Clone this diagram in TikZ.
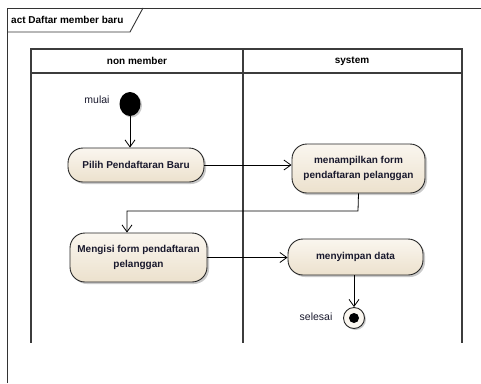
\documentclass[tikz,border=0pt]{standalone}
\usepackage{fontspec}
\setmainfont{Liberation Sans}
\usetikzlibrary{arrows.meta,shadows,shapes.geometric}
\definecolor{nodeLight}{RGB}{250,246,239}
\definecolor{nodeDark}{RGB}{236,225,205}
\definecolor{txt}{RGB}{25,25,45}
\definecolor{lanecol}{RGB}{60,60,60}
\tikzset{
  act/.style={draw=black!85, line width=0.9pt, rounded corners=15pt, top color=nodeLight, bottom color=nodeDark,
    drop shadow={shadow xshift=2pt, shadow yshift=-2pt, fill=black!35, opacity=0.6},
    align=center, inner sep=2pt, text=txt, font=\bfseries\fontsize{10}{14.5}\selectfont},
  flow/.style={draw=black, line width=0.8pt, -{Straight Barb[length=7pt,width=10pt,line width=0.8pt]}},
  lbl/.style={text=txt, font=\fontsize{10.5}{12}\selectfont, inner sep=0pt},
  lane/.style={draw=lanecol, line width=1.2pt},
}
\begin{document}
\begin{tikzpicture}[x=1pt,y=-1pt]
\useasboundingbox (0,0) rectangle (481,383);
% frame
\draw[line width=0.9pt, black!80] (7,383) -- (7,8) -- (481,8);
\draw[line width=0.9pt, black!80] (7,32) -- (130,32) -- (143,8);
\node[anchor=west, inner sep=0pt, text=black, font=\bfseries\fontsize{10}{12}\selectfont] (title) at (11,20) {act Daftar member baru};
% lanes
\draw[lane] (31,49) rectangle (462,73);
\draw[lane] (31,73) -- (31,343);
\draw[lane] (243,49) -- (243,343);
\draw[lane] (462,73) -- (462,343);
\node[font=\bfseries\fontsize{10}{12}\selectfont, text=black] (h1) at (137,61) {non member};
\node[font=\bfseries\fontsize{10}{12}\selectfont, text=black] (h2) at (352,61) {system};
% start
\node[ellipse, fill=black, minimum width=21pt, minimum height=24pt, inner sep=0pt,
  drop shadow={shadow xshift=1.5pt, shadow yshift=-1.5pt, fill=black!35, opacity=0.6}] (start) at (130,104) {};
\node[lbl] (mulai) at (97,100) {mulai};
% activities
\node[act, minimum width=136pt, minimum height=34pt] (pilih) at (136,165) {Pilih Pendaftaran Baru};
\node[act, minimum width=133pt, minimum height=49pt] (tampil) at (358.5,168.5) {menampilkan form\\pendaftaran pelanggan};
\node[act, minimum width=137pt, minimum height=49pt] (isi) at (138.5,257.5) {Mengisi form pendaftaran\\pelanggan};
\node[act, minimum width=135pt, minimum height=36pt] (simpan) at (355.5,257) {menyimpan data};
% final
\node[circle, draw=black!85, line width=0.9pt, fill=nodeLight, minimum size=21pt, inner sep=0pt,
  drop shadow={shadow xshift=1.5pt, shadow yshift=-1.5pt, fill=black!35, opacity=0.6}] (final) at (354,318) {};
\node[circle, fill=black, minimum size=10pt, inner sep=0pt] (finaldot) at (final.center) {};
\node[lbl] (selesai) at (316,317) {selesai};
% flows
\draw[flow] (start.south) -- (start.south |- pilih.north);
\draw[flow] (pilih.east) -- (tampil.west |- pilih.east);
\coordinate (b1) at (358,211);
\coordinate (b2) at (127,211);
\draw[flow] (tampil.south) -- (b1) -- (b2) -- (b2 |- isi.north);
\draw[flow] (isi.east) -- (simpan.west |- isi.east);
\draw[flow] (simpan.south -| final.north) -- (final.north);
\end{tikzpicture}
\end{document}
